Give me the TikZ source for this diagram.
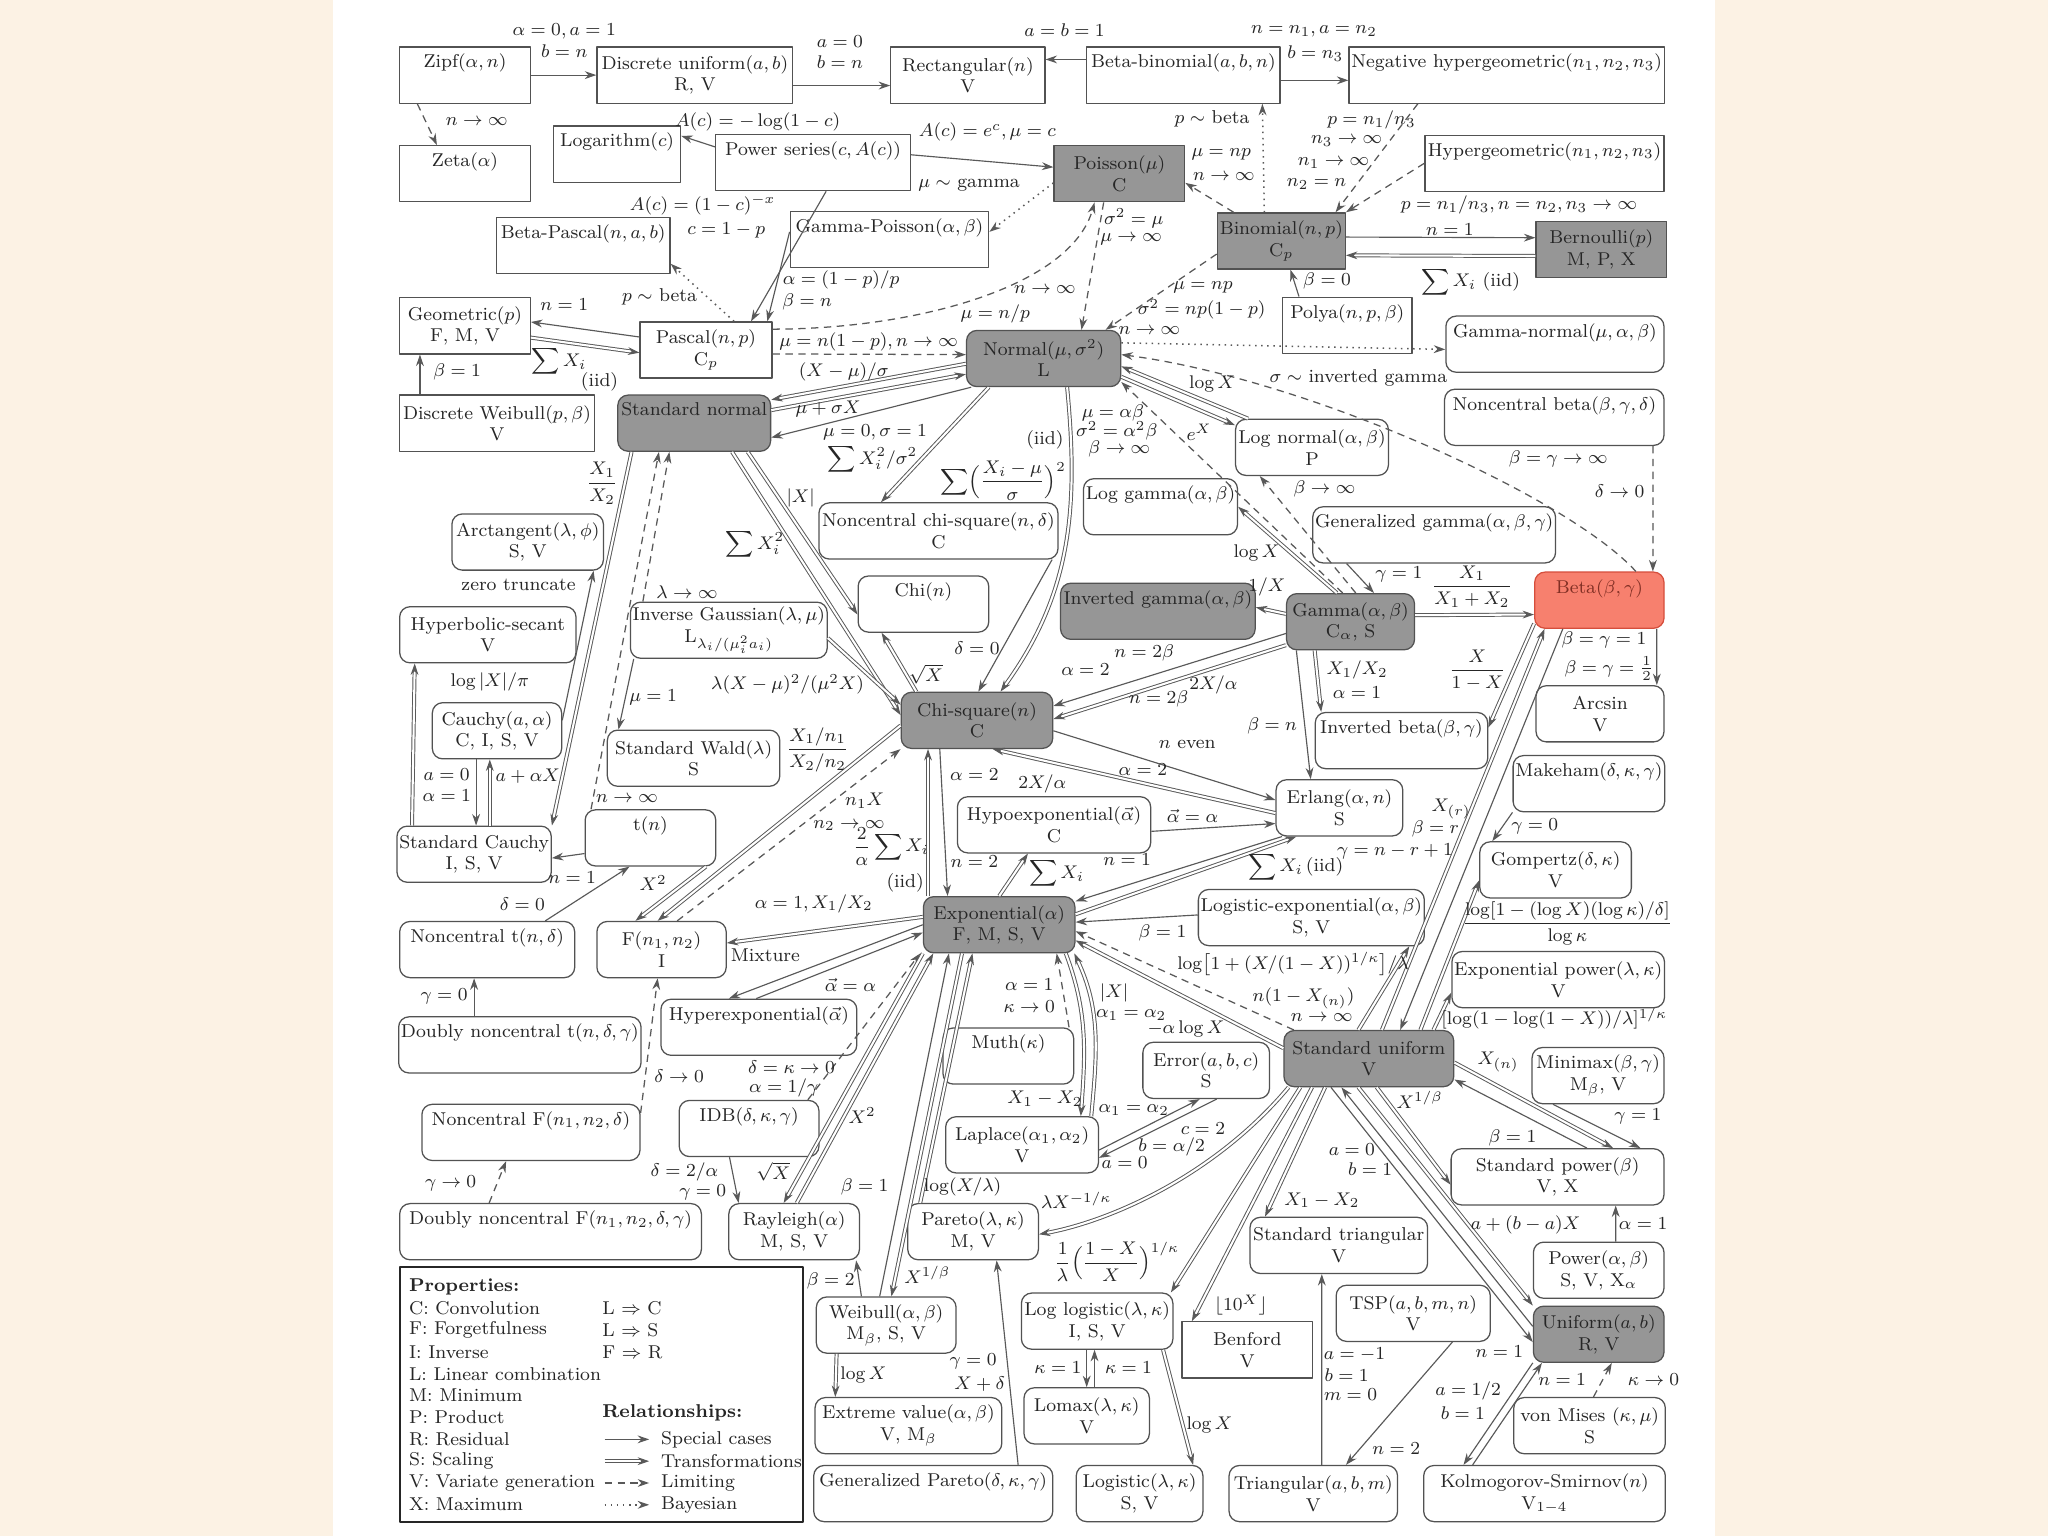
\documentclass[tikz,border=0pt]{standalone}
\usepackage{amsmath}
\usetikzlibrary{arrows.meta,calc}
\definecolor{pagebg}{RGB}{252,242,228}
\definecolor{hubgray}{RGB}{150,150,150}
\definecolor{betafill}{RGB}{247,128,110}
\definecolor{betaedge}{RGB}{214,78,60}
\newcommand{\distfont}{\fontsize{8.1}{9.4}\selectfont}
\tikzset{
  dbox/.style={draw=black!68,line width=0.55pt,font=\distfont,text=black!85,align=center,minimum height=0.86cm,inner sep=1pt},
  sq/.style={dbox},
  rd/.style={dbox,rounded corners=4.5pt},
  hub/.style={fill=hubgray},
  bw/.style={minimum width=#1*0.02cm},
  lab/.style={font=\distfont,text=black!85,inner sep=0.5pt,align=center},
  sc/.style={->,draw=black!65,line width=0.5pt},
  tr/.style={->,draw=black!65,line width=0.42pt,double,double distance=0.9pt},
  lim/.style={->,draw=black!65,line width=0.55pt,dash pattern=on 3.2pt off 2.4pt},
  bay/.style={->,draw=black!65,line width=0.65pt,dotted}
}
\begin{document}
\begin{tikzpicture}[x=0.02cm,y=-0.02cm,>={Stealth[length=5pt,width=3.4pt]},line join=round]
\fill[pagebg] (0,0) rectangle (1568,1176);
\fill[white] (255,0) rectangle (1313,1176);
\useasboundingbox (0,0) rectangle (1568,1176);

% distributions
\node[sq,bw=100] (zipf) at (356,57.5) {Zipf$(\alpha, n)$\\ \strut};
\node[sq,bw=150] (dunif) at (532,57.5) {Discrete uniform$(a, b)$\\ R, V};
\node[sq,bw=118] (rect) at (741,57.5) {Rectangular$(n)$\\ V};
\node[sq,bw=148] (betabin) at (906,57.5) {Beta-binomial$(a, b, n)$\\ \strut};
\node[sq,bw=241] (neghyp) at (1153.5,57.5) {Negative hypergeometric$(n_1, n_2, n_3)$\\ \strut};
\node[sq,bw=100] (zeta) at (356,133) {Zeta$(\alpha)$\\ \strut};
\node[sq,bw=97] (logar) at (472.5,118) {Logarithm$(c)$\\ \strut};
\node[sq,bw=149] (powser) at (622.5,124.5) {Power series$(c, A(c))$\\ \strut};
\node[sq,hub,bw=100] (poisson) at (857,133) {Poisson$(\mu)$\\ C};
\node[sq,bw=183] (hypgeo) at (1182.5,125) {Hypergeometric$(n_1, n_2, n_3)$\\ \strut};
\node[sq,bw=133] (betapas) at (446.5,188) {Beta-Pascal$(n, a, b)$\\ \strut};
\node[sq,bw=152] (gampois) at (681,183.5) {Gamma-Poisson$(\alpha, \beta)$\\ \strut};
\node[sq,hub,bw=98] (binom) at (981,184.5) {Binomial$(n, p)$\\ C$_p$};
\node[sq,hub,bw=100] (bern) at (1226,191) {Bernoulli$(p)$\\ M, P, X};
\node[sq,bw=100] (geom) at (356,249.5) {Geometric$(p)$\\ F, M, V};
\node[sq,bw=101] (pascal) at (540.5,268) {Pascal$(n, p)$\\ C$_p$};
\node[rd,hub,bw=118] (normal) at (799,274.5) {Normal$(\mu, \sigma^2)$\\ L};
\node[sq,bw=99] (polya) at (1031.5,249) {Polya$(n, p, \beta)$\\ \strut};
\node[rd,bw=167] (gamnorm) at (1190.5,263.5) {Gamma-normal$(\mu, \alpha, \beta)$\\ \strut};
\node[sq,bw=149] (dweib) at (380.5,324) {Discrete Weibull$(p, \beta)$\\ V};
\node[rd,hub,bw=117] (stdnorm) at (531.5,324) {Standard normal\\ \strut};
\node[rd,bw=168] (ncbeta) at (1190,319.5) {Noncentral beta$(\beta, \gamma, \delta)$\\ \strut};
\node[rd,bw=117] (lognorm) at (1004.5,342.5) {Log normal$(\alpha, \beta)$\\ P};
\node[rd,bw=116] (arctan) at (404,415) {Arctangent$(\lambda, \phi)$\\ S, V};
\node[rd,bw=183] (ncchi) at (718.5,406.5) {Noncentral chi-square$(n, \delta)$\\ C};
\node[rd,bw=115] (loggam) at (888.5,388) {Log gamma$(\alpha, \beta)$\\ \strut};
\node[rd,bw=184] (gengam) at (1098,409.5) {Generalized gamma$(\alpha, \beta, \gamma)$\\ \strut};
\node[rd,bw=99,fill=betafill,draw=betaedge,text=betaedge!60!black] (beta) at (1224.5,459.5) {Beta$(\beta, \gamma)$\\ \strut};
\node[rd,bw=135] (hypsec) at (373.5,486) {Hyperbolic-secant\\ V};
\node[rd,bw=150] (invgauss) at (558,482.5) {Inverse Gaussian$(\lambda, \mu)$\\ L$_{\lambda_i/(\mu_i^2 a_i)}$};
\node[rd,bw=100] (chi) at (707,462.5) {Chi$(n)$\\ \strut};
\node[rd,hub,bw=149] (invgam) at (886.5,468) {Inverted gamma$(\alpha, \beta)$\\ \strut};
\node[rd,hub,bw=98] (gamma) at (1034,476) {Gamma$(\alpha, \beta)$\\ C$_\alpha$, S};
\node[rd,bw=98] (arcsin) at (1225,546.5) {Arcsin\\ V};
\node[rd,bw=99] (cauchy) at (380.5,559.5) {Cauchy$(a, \alpha)$\\ C, I, S, V};
\node[rd,bw=132] (stdwald) at (531,580.5) {Standard Wald$(\lambda)$\\ S};
\node[rd,hub,bw=116] (chisq) at (748,551.5) {Chi-square$(n)$\\ C};
\node[rd,bw=132] (invbeta) at (1073,567) {Inverted beta$(\beta, \gamma)$\\ \strut};
\node[rd,bw=115] (makeham) at (1216.5,600) {Makeham$(\delta, \kappa, \gamma)$\\ \strut};
\node[rd,bw=114] (stdcauchy) at (363,654) {Standard Cauchy\\ I, S, V};
\node[rd,bw=100] (tdist) at (498,641.5) {t$(n)$\\ \strut};
\node[rd,bw=148] (hypoexp) at (807,631.5) {Hypoexponential$(\vec{\alpha})$\\ C};
\node[rd,bw=97] (erlang) at (1025.5,618.5) {Erlang$(\alpha, n)$\\ S};
\node[rd,bw=116] (gompertz) at (1191,666) {Gompertz$(\delta, \kappa)$\\ V};
\node[rd,bw=134] (nct) at (373,727) {Noncentral t$(n, \delta)$\\ \strut};
\node[rd,bw=99] (fdist) at (506.5,727) {F$(n_1, n_2)$\\ I};
\node[rd,hub,bw=116] (expo) at (765,708) {Exponential$(\alpha)$\\ F, M, S, V};
\node[rd,bw=172] (logexp) at (1004,702.5) {Logistic-exponential$(\alpha, \beta)$\\ S, V};
\node[rd,bw=162] (exppow) at (1193,750) {Exponential power$(\lambda, \kappa)$\\ V};
\node[rd,bw=184] (dnct) at (398,800) {Doubly noncentral t$(n, \delta, \gamma)$\\ \strut};
\node[rd,bw=150] (hyperexp) at (581,786.5) {Hyperexponential$(\vec{\alpha})$\\ \strut};
\node[rd,bw=100] (muth) at (772,808.5) {Muth$(\kappa)$\\ \strut};
\node[rd,bw=97] (error) at (923.5,819.5) {Error$(a, b, c)$\\ S};
\node[rd,hub,bw=130] (stdunif) at (1048,810.5) {Standard uniform\\ V};
\node[rd,bw=101] (minimax) at (1223.5,823.5) {Minimax$(\beta, \gamma)$\\ M$_\beta$, V};
\node[rd,bw=167] (ncf) at (406.5,867) {Noncentral F$(n_1, n_2, \delta)$\\ \strut};
\node[rd,bw=107] (idb) at (573.5,864) {IDB$(\delta, \kappa, \gamma)$\\ \strut};
\node[rd,bw=117] (laplace) at (782.5,876.5) {Laplace$(\alpha_1, \alpha_2)$\\ V};
\node[rd,bw=163] (stdpow) at (1192.5,901) {Standard power$(\beta)$\\ V, X};
\node[rd,bw=231] (dncf) at (421.5,943) {Doubly noncentral F$(n_1, n_2, \delta, \gamma)$\\ \strut};
\node[rd,bw=100] (rayleigh) at (608,943) {Rayleigh$(\alpha)$\\ M, S, V};
\node[rd,bw=100] (pareto) at (745,943) {Pareto$(\lambda, \kappa)$\\ M, V};
\node[rd,bw=136] (stdtri) at (1025,953.5) {Standard triangular\\ V};
\node[rd,bw=100] (power) at (1224,972.5) {Power$(\alpha, \beta)$\\ S, V, X$_\alpha$};
\node[rd,bw=107] (weibull) at (678.5,1014.5) {Weibull$(\alpha, \beta)$\\ M$_\beta$, S, V};
\node[rd,bw=116] (loglogis) at (840,1011.5) {Log logistic$(\lambda, \kappa)$\\ I, S, V};
\node[sq,bw=100] (benford) at (955,1033.5) {Benford\\ V};
\node[rd,bw=118] (tsp) at (1082,1005.5) {TSP$(a, b, m, n)$\\ V};
\node[rd,hub,bw=100] (uniform) at (1224,1021.5) {Uniform$(a, b)$\\ R, V};
\node[rd,bw=143] (extval) at (695.5,1091.5) {Extreme value$(\alpha, \beta)$\\ V, M$_\beta$};
\node[rd,bw=96] (lomax) at (832,1084) {Lomax$(\lambda, \kappa)$\\ V};
\node[rd,bw=116] (vonmises) at (1217,1091.5) {von Mises $(\kappa, \mu)$\\ S};
\node[rd,bw=183] (genpareto) at (714.5,1143.5) {Generalized Pareto$(\delta, \kappa, \gamma)$\\ \strut};
\node[rd,bw=97] (logistic) at (872.5,1143.5) {Logistic$(\lambda, \kappa)$\\ S, V};
\node[rd,bw=129] (triang) at (1005.5,1143.5) {Triangular$(a, b, m)$\\ V};
\node[rd,bw=185] (ks) at (1182.5,1143.5) {Kolmogorov-Smirnov$(n)$\\ V$_{1-4}$};

% discrete part
\draw[sc] (zipf) -- (dunif) node[lab] at (432,31) {$\alpha=0, a=1$\\ $b=n$};
\draw[sc] ($(dunif.east)+(0,8)$) -- ($(rect.west)+(0,8)$) node[lab] at (643,40) {$a=0$\\ $b=n$};
\draw[sc] ($(betabin.west)+(0,-12)$) -- ($(rect.east)+(0,-12)$) node[lab] at (815,23) {$a=b=1$};
\draw[sc] ($(betabin.east)+(0,4)$) -- ($(neghyp.west)+(0,4)$) node[lab] at (1006,24) {$n=n_1, a=n_2$} node[lab] at (1007,41) {$b=n_3$};
\draw[lim] ($(zipf.south west)+(14,0)$) -- ($(zeta.north west)+(29,0)$) node[lab] at (365,93) {$n\to\infty$};
\draw[sc] ($(powser.west)+(0,-12)$) -- ($(logar.east)+(0,-14)$) node[lab] at (580,93) {$A(c)=-\log(1-c)$};
\draw[sc] ($(powser.east)+(0,-6)$) -- ($(poisson.west)+(0,-5)$) node[lab] at (756,101) {$A(c)=e^c, \mu=c$};
\draw[sc] ($(powser.south)+(10,0)$) -- ($(pascal.north)+(34.5,0)$) node[lab] at (538,157) {$A(c)=(1-c)^{-x}$} node[lab] at (556,176) {$c=1-p$};
\draw[sc] ($(gampois.west)+(0,-6)$) -- ($(pascal.north east)+(-4,0)$) node[lab] at (644,214) {$\alpha=(1-p)/p$} node[lab] at (618,231) {$\beta=n$};
\draw[bay] ($(pascal.north)+(21.5,0)$) -- ($(betapas.south east)+(0,-8)$) node[lab] at (505,227) {$p\sim$ beta};
\draw[bay] ($(poisson.west)+(0,7)$) -- ($(gampois.east)+(0,-6)$) node[lab] at (742,142) {$\mu\sim$ gamma};
\draw[lim] ($(pascal.east)+(0,-16)$) .. controls (700,252) and (820,220) .. ($(poisson.south)+(-19,0)$) node[lab] at (800,222) {$n\to\infty$} node[lab] at (762,240) {$\mu=n/p$};
\draw[lim] ($(pascal.east)+(0,3)$) -- ($(normal.west)+(0,-3)$) node[lab] at (665,262) {$\mu=n(1-p), n\to\infty$};
\draw[sc] ($(pascal.west)+(0,-10)$) -- ($(geom.east)+(0,-3)$) node[lab] at (432,233) {$n=1$};
\draw[tr] ($(geom.east)+(0,9)$) -- ($(pascal.west)+(0,2)$) node[lab] at (428,277) {$\displaystyle\sum X_i$} node[lab] at (459,292) {(iid)};
\draw[sc] ($(dweib.north west)+(16,0)$) -- ($(geom.south west)+(16,0)$) node[lab] at (350,285) {$\beta=1$};
\draw[lim] ($(binom.north west)+(13,0)$) -- ($(poisson.east)+(0,7)$) node[lab] at (935,118) {$\mu=np$} node[lab] at (937,135) {$n\to\infty$};
\draw[bay] ($(binom.north)+(-13,0)$) -- ($(betabin.south east)+(-14,0)$) node[lab] at (928,91) {$p\sim$ beta};
\draw[lim] ($(neghyp.south)+(-68,0)$) -- ($(binom.north east)+(-8,0)$) node[lab] at (1050,92) {$p=n_1/n_3$} node[lab] at (1031,108) {$n_3\to\infty$} node[lab] at (1021,125) {$n_1\to\infty$} node[lab] at (1008,141) {$n_2=n$};
\draw[lim] (hypgeo.west) -- (binom.north east) node[lab] at (1163,157) {$p=n_1/n_3, n=n_2, n_3\to\infty$};
\draw[sc] ($(binom.east)+(0,-3)$) -- ($(bern.west)+(0,-9)$) node[lab] at (1110,176) {$n=1$};
\draw[tr] ($(bern.west)+(0,5)$) -- ($(binom.east)+(0,11)$) node[lab] at (1126,216) {$\displaystyle\sum X_i$ (iid)};
\draw[sc] ($(polya.north west)+(13,0)$) -- ($(binom.south)+(7,0)$) node[lab] at (1016,215) {$\beta=0$};
\draw[lim] ($(binom.west)+(0,10)$) -- ($(normal.north east)+(-12,0)$) node[lab] at (921,220) {$\mu=np$} node[lab] at (920,237) {$\sigma^2=np(1-p)$} node[lab] at (880,253) {$n\to\infty$};
\draw[lim] ($(poisson.south)+(-12,0)$) -- ($(normal.north)+(29,0)$) node[lab] at (868,167) {$\sigma^2=\mu$} node[lab] at (866,183) {$\mu\to\infty$};

% normal and gamma families
\draw[bay] ($(normal.east)+(0,-12)$) -- ($(gamnorm.west)+(0,4)$) node[lab] at (1040,289) {$\sigma\sim$ inverted gamma};
\draw[lim] ($(beta.north)+(28,0)$) .. controls (1200,380) and (1000,290) .. ($(normal.east)+(0,-3)$) node[lab] at (1193,351) {$\beta=\gamma\to\infty$};
\draw[lim] ($(ncbeta.south east)+(-9,0)$) -- ($(beta.north east)+(-9,0)$) node[lab] at (1240,376) {$\delta\to0$};
\draw[tr] ($(lognorm.north west)+(10,0)$) -- ($(normal.east)+(0,6)$) node[lab] at (928,294) {$\log X$};
\draw[tr] ($(normal.east)+(0,14)$) -- ($(lognorm.north west)+(0,5)$) node[lab] at (918,331) {$e^X$};
\draw[tr] ($(normal.west)+(0,4)$) -- ($(stdnorm.north east)+(0,4)$) node[lab] at (646,285) {$(X-\mu)/\sigma$};
\draw[tr] ($(stdnorm.east)+(0,-10)$) -- ($(normal.west)+(0,12)$) node[lab] at (634,313) {$\mu+\sigma X$};
\draw[sc] ($(normal.south west)+(4,0)$) -- ($(stdnorm.east)+(0,11)$) node[lab] at (670,331) {$\mu=0, \sigma=1$};
\draw[tr] ($(normal.south)+(-42,0)$) -- ($(ncchi.north)+(-44,0)$) node[lab] at (668,352) {$\displaystyle\sum X_i^2/\sigma^2$};
\draw[tr] ($(normal.south)+(18,0)$) .. controls (826,390) and (820,455) .. ($(chisq.north)+(18,0)$) node[lab] at (800,337) {(iid)} node[lab] at (768,368) {$\displaystyle\sum\Bigl(\frac{X_i-\mu}{\sigma}\Bigr)^{2}$};
\draw[lim] ($(gamma.north)+(-6,0)$) -- ($(normal.south east)+(0,-4)$) node[lab] at (852,316) {$\mu=\alpha\beta$} node[lab] at (855,330) {$\sigma^2=\alpha^2\beta$} node[lab] at (857,344) {$\beta\to\infty$};
\draw[lim] ($(gamma.north)+(4,0)$) -- ($(lognorm.south)+(-40,0)$) node[lab] at (1014,374) {$\beta\to\infty$};
\draw[tr] ($(gamma.north west)+(39,0)$) -- (loggam.east) node[lab] at (962,423) {$\log X$};
\draw[tr] ($(gamma.west)+(0,-6)$) -- ($(invgam.east)+(0,-3)$) node[lab] at (970,449) {$1/X$};
\draw[sc] ($(gengam.south)+(-67,0)$) -- ($(gamma.north)+(18,0)$) node[lab] at (1071,440) {$\gamma=1$};
\draw[tr] ($(gamma.east)+(0,-5)$) -- ($(beta.west)+(0,11)$) node[lab] at (1127,449) {$\dfrac{X_1}{X_1+X_2}$};
\draw[sc] ($(gamma.west)+(0,9)$) -- ($(chisq.east)+(0,-11)$) node[lab] at (876,500) {$n=2\beta$} node[lab] at (831,513) {$\alpha=2$};
\draw[tr] ($(gamma.south west)+(0,-4)$) -- ($(chisq.east)+(0,-1)$) node[lab] at (929,524) {$2X/\alpha$} node[lab] at (887,535) {$n=2\beta$};
\draw[sc] ($(chisq.east)+(0,8)$) -- ($(erlang.west)+(0,-6)$) node[lab] at (909,570) {$n$ even} node[lab] at (875,589) {$\alpha=2$};
\draw[tr] ($(erlang.west)+(0,4)$) -- ($(chisq.south)+(12,0)$) node[lab] at (798,600) {$2X/\alpha$};
\draw[sc] ($(gamma.south west)+(8,0)$) -- ($(erlang.north west)+(27,0)$) node[lab] at (974,556) {$\beta=n$};
\draw[tr] ($(gamma.south west)+(22,0)$) -- ($(invbeta.north west)+(5,0)$) node[lab] at (1039,513) {$X_1/X_2$} node[lab] at (1039,530) {$\alpha=1$};
\draw[tr] ($(stdnorm.south east)+(-18,0)$) -- ($(chi.west)+(0,8)$) node[lab] at (613,381) {$|X|$};
\draw[tr] ($(stdnorm.south east)+(-30,0)$) -- ($(chisq.west)+(0,-4)$) node[lab] at (578,417) {$\displaystyle\sum X_i^2$};
\draw[tr] ($(chisq.north west)+(12,0)$) -- ($(chi.south)+(-32,0)$) node[lab] at (709,516) {$\sqrt{X}$};
\draw[sc] ($(ncchi.south east)+(-5,0)$) -- ($(chisq.north)+(1,0)$) node[lab] at (748,496) {$\delta=0$};

% beta and standard uniform
\draw[tr] ($(stdunif.north)+(10,0)$) -- ($(beta.south west)+(8,0)$) node[lab] at (1111,619) {$X_{(r)}$} node[lab] at (1099,635) {$\beta=r$} node[lab] at (1068,652) {$\gamma=n-r+1$};
\draw[sc] ($(beta.south west)+(22,0)$) -- ($(stdunif.north)+(24,0)$) node[lab] at (1228,490) {$\beta=\gamma=1$};
\draw[tr] ($(beta.west)+(0,18)$) -- ($(invbeta.east)+(0,-10)$) node[lab] at (1131,513) {$\dfrac{X}{1-X}$};
\draw[sc] ($(beta.south east)+(-6,0)$) -- ($(arcsin.north east)+(-6,0)$) node[lab] at (1232,512) {$\beta=\gamma=\frac{1}{2}$};
\draw[sc] (makeham.south west) -- ($(gompertz.north west)+(10,0)$) node[lab] at (1175,633) {$\gamma=0$};
\draw[tr] ($(stdunif.north east)+(-26,0)$) -- ($(gompertz.west)+(0,8)$) node[lab] at (1200,707) {$\dfrac{\log[1-(\log X)(\log\kappa)/\delta]}{\log\kappa}$};
\draw[tr] ($(stdunif.north east)+(-16,0)$) -- ($(exppow.west)+(0,10)$) node[lab] at (1190,780) {$[\log(1-\log(1-X))/\lambda]^{1/\kappa}$};
\draw[tr] ($(stdunif.north)+(-8,0)$) -- ($(logexp.south east)+(-12,0)$) node[lab] at (990,738) {$\log\bigl[1+(X/(1-X))^{1/\kappa}\bigr]/\lambda$};
\draw[tr] ($(stdunif.west)+(0,-8)$) -- ($(expo.east)+(0,12)$) node[lab] at (908,788) {$-\alpha\log X$};
\draw[lim] ($(stdunif.north west)+(8,0)$) -- ($(expo.east)+(0,5)$) node[lab] at (998,764) {$n(1-X_{(n)})$} node[lab] at (1012,779) {$n\to\infty$};
\draw[tr] ($(stdunif.east)+(0,3)$) -- ($(stdpow.north)+(42.5,0)$) node[lab] at (1147,813) {$X_{(n)}$};
\draw[sc] ($(stdpow.north)+(22.5,0)$) -- ($(stdunif.east)+(0,16)$) node[lab] at (1158,871) {$\beta=1$};
\draw[sc] ($(minimax.south)+(-34.5,0)$) -- ($(stdpow.north)+(63.5,0)$) node[lab] at (1254,855) {$\gamma=1$};
\draw[tr] ($(stdunif.south)+(6,0)$) -- ($(stdpow.west)+(0,6)$) node[lab] at (1087,842) {$X^{1/\beta}$};
\draw[sc] ($(power.north)+(13,0)$) -- ($(stdpow.south)+(44.5,0)$) node[lab] at (1258,937) {$\alpha=1$};
\draw[tr] ($(stdunif.south)+(-8,0)$) -- (uniform.north west) node[lab] at (1168,938) {$a+(b-a)X$};
\draw[sc] ($(uniform.west)+(0,-6)$) -- ($(stdunif.south)+(-21,0)$) node[lab] at (1035,880) {$a=0$} node[lab] at (1049,895) {$b=1$};
\draw[sc] ($(stdunif.south)+(-29,0)$) -- ($(uniform.west)+(0,6)$) node[lab] at (1148,1035) {$n=1$};
\draw[sc] ($(ks.north)+(-55,0)$) -- ($(uniform.south west)+(7,0)$) node[lab] at (1196,1056) {$n=1$};
\draw[sc] (uniform.south west) -- ($(ks.north)+(-62,0)$) node[lab] at (1124,1065) {$a=1/2$} node[lab] at (1120,1082) {$b=1$};
\draw[lim] ($(vonmises.north)+(3,0)$) -- ($(uniform.south)+(10,0)$) node[lab] at (1266,1056) {$\kappa\to0$};
\draw[sc] ($(tsp.south)+(30,0)$) -- ($(triang.north)+(25,0)$) node[lab] at (1069,1109) {$n=2$};
\draw[sc] ($(triang.north)+(6.5,0)$) -- ($(stdtri.south)+(-13,0)$) node[lab] at (1037,1037) {$a=-1$} node[lab] at (1031,1053) {$b=1$} node[lab] at (1034,1068) {$m=0$};
\draw[tr] ($(stdunif.south west)+(32,0)$) -- ($(stdtri.north west)+(12,0)$) node[lab] at (1012,919) {$X_1-X_2$};
\draw[tr] ($(stdunif.south west)+(22,0)$) -- ($(benford.north west)+(8,0)$) node[lab] at (950,999) {$\lfloor 10^X\rfloor$};
\draw[tr] ($(stdunif.south west)+(13,0)$) -- ($(loglogis.north east)+(-2,0)$) node[lab] at (855,966) {$\dfrac{1}{\lambda}\Bigl(\dfrac{1-X}{X}\Bigr)^{1/\kappa}$};
\draw[tr] ($(stdunif.south west)+(4,0)$) .. controls (930,900) and (850,935) .. ($(pareto.east)+(0,2)$) node[lab] at (824,919) {$\lambda X^{-1/\kappa}$};
\draw[sc] ($(loglogis.south)+(-8,0)$) -- (lomax.north) node[lab] at (810,1047) {$\kappa=1$};
\draw[sc] ($(lomax.north)+(6,0)$) -- ($(loglogis.south)+(-2,0)$) node[lab] at (864,1047) {$\kappa=1$};
\draw[tr] ($(loglogis.south east)+(-8,0)$) -- ($(logistic.north east)+(-8,0)$) node[lab] at (926,1091) {$\log X$};
\draw[sc] ($(laplace.east)+(0,4)$) -- ($(error.south)+(-5,0)$) node[lab] at (868,850) {$\alpha_1=\alpha_2$};
\draw[sc] ($(error.south)+(8,0)$) -- ($(laplace.east)+(0,10)$) node[lab] at (921,864) {$c=2$} node[lab] at (897,878) {$b=\alpha/2$} node[lab] at (861,890) {$a=0$};

% exponential family
\draw[tr] ($(expo.north west)+(4,0)$) -- ($(chisq.south west)+(21,0)$) node[lab] at (682,648) {$\dfrac{2}{\alpha}\displaystyle\sum X_i$} node[lab] at (693,676) {(iid)};
\draw[sc] ($(chisq.south west)+(30,0)$) -- ($(expo.north west)+(19,0)$) node[lab] at (746,593) {$\alpha=2$} node[lab] at (746,660) {$n=2$};
\draw[sc] ($(hypoexp.east)+(0,5)$) -- ($(erlang.west)+(0,12)$) node[lab] at (913,625) {$\vec{\alpha}=\alpha$};
\draw[tr] (expo.north) -- ($(hypoexp.south)+(-20,0)$) node[lab] at (809,669) {$\displaystyle\sum X_i$};
\draw[sc] ($(erlang.south west)+(5,0)$) -- ($(expo.north east)+(0,4)$) node[lab] at (863,658) {$n=1$};
\draw[tr] ($(expo.east)+(0,-8)$) -- ($(erlang.south west)+(16,0)$) node[lab] at (992,664) {$\displaystyle\sum X_i$\,(iid)};
\draw[sc] ($(logexp.west)+(0,-2)$) -- ($(expo.east)+(0,-2)$) node[lab] at (890,714) {$\beta=1$};
\draw[lim] ($(muth.north east)+(-4,0)$) -- ($(expo.south)+(44,0)$) node[lab] at (788,754) {$\alpha=1$} node[lab] at (788,771) {$\kappa\to0$};
\draw[tr] ($(expo.south)+(51,0)$) .. controls (833,775) and (831,806) .. ($(laplace.north east)+(-14,0)$) node[lab] at (800,841) {$X_1-X_2$};
\draw[tr] ($(laplace.north east)+(-6,0)$) .. controls (840,806) and (843,773) .. ($(expo.south east)+(-1,0)$) node[lab] at (853,760) {$|X|$} node[lab] at (866,777) {$\alpha_1=\alpha_2$};
\draw[sc] (expo.west) -- ($(hyperexp.north)+(-23,0)$) node[lab] at (586,731) {Mixture};
\draw[sc] ($(hyperexp.north)+(-2,0)$) -- ($(expo.west)+(0,6)$) node[lab] at (651,754) {$\vec{\alpha}=\alpha$};
\draw[tr] ($(expo.west)+(0,-6)$) -- ($(fdist.east)+(0,-5)$) node[lab] at (623,692) {$\alpha=1, X_1/X_2$};
\draw[tr] ($(chisq.west)+(0,4)$) -- ($(fdist.north)+(-3,0)$) node[lab] at (626,574) {$\dfrac{X_1/n_1}{X_2/n_2}$};
\draw[tr] ($(tdist.south east)+(-8,0)$) -- ($(fdist.north)+(-20,0)$) node[lab] at (500,676) {$X^2$};
\draw[lim] ($(fdist.north)+(12,0)$) -- (chisq.south west) node[lab] at (662,613) {$n_1X$} node[lab] at (650,632) {$n_2\to\infty$};
\draw[lim] ($(idb.north east)+(-9,0)$) -- ($(expo.south west)+(-2,0)$) node[lab] at (606,817) {$\delta=\kappa\to0$} node[lab] at (600,833) {$\alpha=1/\gamma$};
\draw[sc] ($(idb.south)+(-15,0)$) -- ($(rayleigh.north west)+(8,0)$) node[lab] at (524,897) {$\delta=2/\alpha$} node[lab] at (538,913) {$\gamma=0$};
\draw[tr] (expo.south west) -- ($(rayleigh.north)+(-8,0)$) node[lab] at (592,897) {$\sqrt{X}$};
\draw[tr] ($(rayleigh.north)+(2,0)$) -- ($(expo.south west)+(8,0)$) node[lab] at (660,854) {$X^2$};
\draw[sc] ($(weibull.north west)+(35,0)$) -- ($(rayleigh.south east)+(-3,0)$) node[lab] at (636,981) {$\beta=2$};
\draw[sc] ($(weibull.north)+(-5,0)$) -- ($(expo.south west)+(20,0)$) node[lab] at (662,909) {$\beta=1$};
\draw[tr] ($(expo.south west)+(30,0)$) -- ($(weibull.north)+(4,0)$) node[lab] at (710,976) {$X^{1/\beta}$};
\draw[tr] ($(pareto.north west)+(10,0)$) -- ($(expo.south west)+(38,0)$) node[lab] at (737,909) {$\log(X/\lambda)$};
\draw[tr] ($(weibull.south west)+(16,0)$) -- ($(extval.north west)+(16,0)$) node[lab] at (661,1053) {$\log X$};
\draw[sc] ($(genpareto.north)+(65,0)$) -- ($(pareto.south)+(18,0)$) node[lab] at (745,1042) {$\gamma=0$} node[lab] at (750,1060) {$X+\delta$};

% continuous, left side
\draw[lim] ($(tdist.north west)+(5,0)$) -- ($(stdnorm.south)+(-27,0)$) node[lab] at (480,611) {$n\to\infty$};
\draw[lim] ($(invgauss.north west)+(10,0)$) -- ($(stdnorm.south)+(-19,0)$) node[lab] at (526,453) {$\lambda\to\infty$};
\draw[sc] ($(invgauss.south west)+(3,0)$) -- ($(stdwald.north west)+(9,0)$) node[lab] at (500,534) {$\mu=1$};
\draw[tr] ($(invgauss.east)+(0,6)$) -- ($(chisq.west)+(0,-12)$) node[lab] at (603,524) {$\lambda(X-\mu)^2/(\mu^2X)$};
\draw[tr] ($(stdnorm.south west)+(11,0)$) -- (stdcauchy.north east) node[lab] at (461,370) {$\dfrac{X_1}{X_2}$};
\draw[sc] ($(cauchy.north east)+(0,14)$) -- ($(arctan.south east)+(-8,0)$) node[lab] at (397,448) {zero truncate};
\draw[tr] ($(stdcauchy.north west)+(12,0)$) -- ($(hypsec.south west)+(12,0)$) node[lab] at (375,522) {$\log|X|/\pi$};
\draw[sc] ($(cauchy.south)+(-16,0)$) -- ($(stdcauchy.north)+(1.5,0)$) node[lab] at (342,593) {$a=0$} node[lab] at (342,609) {$\alpha=1$};
\draw[tr] ($(stdcauchy.north)+(12,0)$) -- ($(cauchy.south)+(-5.5,0)$) node[lab] at (404,594) {$a+\alpha X$};
\draw[sc] ($(tdist.west)+(0,12)$) -- ($(stdcauchy.east)+(0,3)$) node[lab] at (438,672) {$n=1$};
\draw[sc] ($(nct.north east)+(-23,0)$) -- ($(tdist.south)+(-16,0)$) node[lab] at (400,692) {$\delta=0$};
\draw[sc] ($(dnct.north)+(-35,0)$) -- ($(nct.south)+(-10,0)$) node[lab] at (340,763) {$\gamma=0$};
\draw[lim] ($(ncf.north east)+(0,7)$) -- ($(fdist.south)+(-3,0)$) node[lab] at (520,824) {$\delta\to0$};
\draw[lim] ($(dncf.north)+(-47,0)$) -- ($(ncf.south)+(-19,0)$) node[lab] at (345,906) {$\gamma\to0$};

% legend
\node[draw=black!85,line width=1pt,minimum width=309*0.02cm,minimum height=195*0.02cm,inner sep=0pt] (legend) at (460.5,1067.5) {};
\node[lab,anchor=west] (props) at (312,985) {\textbf{Properties:}};
\foreach \txt [count=\i] in {C: Convolution, F: Forgetfulness, I: Inverse, L: Linear combination, M: Minimum, P: Product, R: Residual, S: Scaling, V: Variate generation, X: Maximum}
  \node[lab,anchor=west] (prop\i) at (312,985+16.7*\i) {\txt};
\node[lab,anchor=west] (imp1) at (460,1001.7) {L $\Rightarrow$ C};
\node[lab,anchor=west] (imp2) at (460,1018.4) {L $\Rightarrow$ S};
\node[lab,anchor=west] (imp3) at (460,1035.1) {F $\Rightarrow$ R};
\node[lab,anchor=west] (rels) at (460,1082) {\textbf{Relationships:}};
\foreach \sty/\txt [count=\i] in {sc/Special cases, tr/Transformations, lim/Limiting, bay/Bayesian} {
  \coordinate (ls\i) at (463,1085.3+16.7*\i);
  \coordinate (le\i) at (497,1085.3+16.7*\i);
  \draw[\sty] (ls\i) -- (le\i);
  \node[lab,anchor=west] (lt\i) at (505,1085.3+16.7*\i) {\txt};
}
\end{tikzpicture}
\end{document}
